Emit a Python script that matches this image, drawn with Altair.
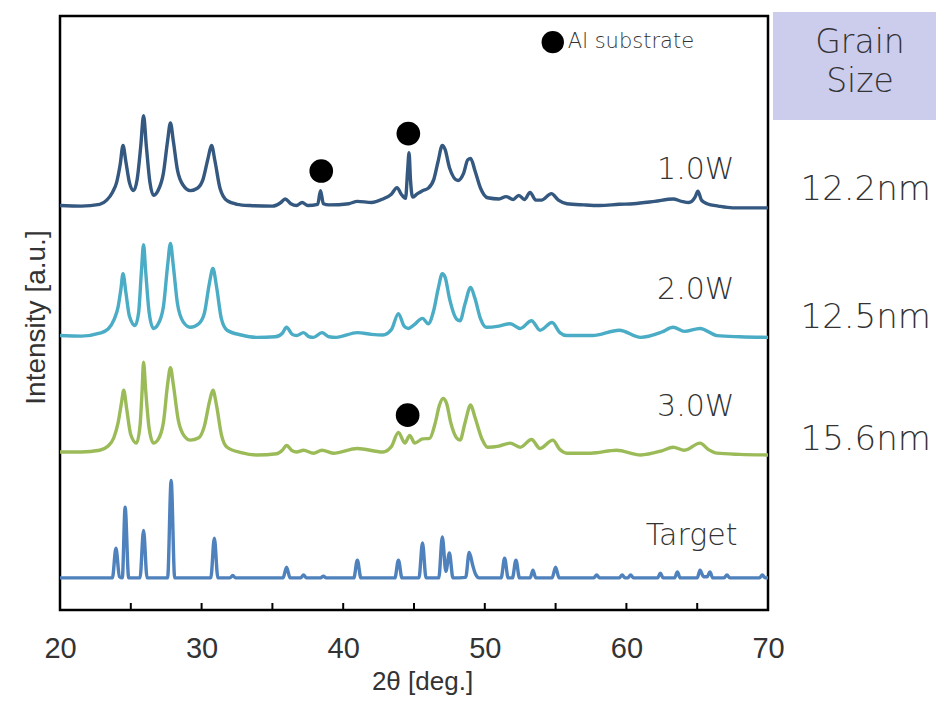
import altair as alt
import pandas as pd

# ---------------- data ----------------
series_names = ["1.0W", "2.0W", "3.0W", "Target"]
series_colors = ["#34587F", "#4BACC6", "#9BBB59", "#4F81BD"]

theta_10 = [20.0, 21.5, 22.8, 23.3, 23.7, 24.0, 24.25, 24.45, 24.65, 24.9, 25.2, 25.45,
            25.7, 25.9, 26.1, 26.35, 26.6, 26.9, 27.3, 27.6, 27.8, 28.0, 28.3, 28.7,
            29.2, 29.7, 30.1, 30.45, 30.7, 30.95, 31.3, 31.8, 32.5, 33.4, 35.0, 35.6,
            35.9, 36.3, 36.7, 37.1, 37.5, 38.2, 38.4, 38.6, 39.0, 40.4, 41.0, 42.0,
            42.8, 43.4, 43.8, 44.1, 44.4, 44.55, 44.65, 44.75, 44.9, 45.2, 45.6, 46.0,
            46.4, 46.7, 47.0, 47.2, 47.5, 48.1, 48.5, 48.8, 49.0, 49.3, 49.7, 50.2,
            51.0, 51.5, 52.0, 52.4, 52.8, 53.2, 53.6, 54.0, 54.7, 55.2, 55.8, 57.0,
            58.1, 59.5, 60.5, 62.0, 63.3, 63.9, 64.4, 64.85, 65.05, 65.3, 65.7, 66.5,
            67.5, 70.0]
int_10 = [68.1, 68.0, 68.3, 69.0, 70.3, 72.0, 75.0, 78.2, 75.5, 72.0, 70.6, 72.5,
          78.0, 83.2, 78.0, 72.0, 69.8, 70.5, 73.5, 79.0, 82.0, 79.0, 74.0, 71.5,
          70.6, 71.0, 72.5, 76.0, 78.2, 75.5, 71.0, 68.9, 68.3, 68.1, 68.0, 68.6,
          69.2, 68.4, 68.1, 68.6, 68.1, 68.3, 70.6, 68.4, 68.2, 68.4, 68.8, 68.6,
          69.2, 70.0, 71.1, 70.0, 69.3, 74.0, 77.0, 72.5, 69.5, 70.0, 70.6, 71.0,
          72.5, 75.5, 78.2, 77.5, 74.5, 72.3, 73.5, 75.8, 76.0, 74.0, 71.0, 69.4,
          69.2, 69.6, 69.1, 69.8, 69.1, 70.3, 69.0, 69.0, 70.1, 69.0, 68.4, 68.2,
          68.1, 68.3, 68.4, 68.8, 69.2, 68.8, 68.6, 69.5, 70.5, 69.0, 68.4, 68.0,
          67.7, 67.7]

theta_20 = [20.0, 21.5, 22.8, 23.4, 23.8, 24.1, 24.3, 24.45, 24.65, 24.9, 25.3, 25.55,
            25.75, 25.9, 26.05, 26.3, 26.6, 26.9, 27.3, 27.6, 27.8, 28.0, 28.3, 28.7,
            29.2, 29.8, 30.2, 30.55, 30.8, 31.05, 31.4, 31.8, 32.8, 33.9, 35.2, 35.7,
            36.0, 36.4, 36.7, 37.2, 37.6, 37.9, 38.5, 39.0, 39.5, 41.0, 42.0, 42.8,
            43.4, 43.9, 44.3, 44.6, 45.0, 45.6, 46.0, 46.4, 46.7, 47.0, 47.2, 47.5,
            48.0, 48.25, 48.6, 49.0, 49.3, 49.7, 50.1, 51.0, 51.8, 52.5, 53.3, 53.9,
            54.75, 55.3, 55.8, 57.6, 59.5, 61.0, 62.5, 63.3, 64.1, 65.2, 66.4, 68.0,
            70.0]
int_20 = [46.2, 46.1, 46.6, 47.3, 48.8, 51.0, 54.0, 56.6, 53.5, 49.5, 47.9, 50.0,
          57.0, 61.5, 57.0, 50.0, 47.4, 48.0, 51.0, 58.0, 61.7, 58.0, 51.5, 48.5,
          47.6, 48.2, 50.0, 55.0, 57.5, 54.5, 49.0, 47.1, 46.3, 45.9, 46.0, 46.6,
          47.6, 46.4, 46.2, 46.7, 46.0, 45.9, 46.7, 46.0, 45.9, 46.7, 46.4, 46.3,
          47.2, 49.9, 47.8, 47.4, 48.0, 49.1, 48.2, 50.5, 54.0, 56.6, 56.0, 52.5,
          49.0, 48.7, 51.5, 54.3, 52.5, 49.0, 47.6, 47.8, 48.2, 47.4, 48.7, 47.1,
          48.4, 46.7, 46.2, 46.2, 47.1, 45.9, 46.8, 47.6, 46.9, 47.4, 46.2, 46.0,
          45.9]

theta_30 = [20.0, 21.5, 22.8, 23.4, 23.8, 24.1, 24.35, 24.5, 24.7, 25.0, 25.4, 25.65,
            25.8, 25.9, 26.05, 26.3, 26.6, 26.9, 27.3, 27.6, 27.8, 28.0, 28.35, 28.8,
            29.2, 29.8, 30.2, 30.55, 30.8, 31.05, 31.4, 31.8, 32.8, 33.9, 35.3, 35.7,
            36.0, 36.4, 36.7, 37.2, 37.9, 38.5, 39.3, 41.0, 42.8, 43.4, 43.9, 44.35,
            44.7, 45.05, 45.6, 46.1, 46.5, 46.8, 47.05, 47.3, 47.6, 48.0, 48.25, 48.6,
            49.0, 49.3, 49.8, 50.2, 51.0, 51.8, 52.5, 53.3, 53.9, 54.8, 55.3, 55.8,
            57.5, 59.3, 61.0, 62.5, 63.3, 64.1, 65.2, 65.8, 66.4, 68.0, 70.0]
int_30 = [26.6, 26.6, 26.9, 27.6, 29.0, 31.5, 35.0, 37.0, 34.0, 29.5, 28.1, 31.0,
          37.0, 41.7, 37.0, 30.5, 28.1, 28.6, 31.5, 38.0, 40.8, 38.0, 32.0, 29.2,
          28.6, 29.0, 31.0, 35.0, 37.0, 34.5, 29.5, 27.4, 26.5, 26.1, 26.3, 26.9,
          27.7, 26.8, 26.6, 26.9, 26.4, 26.9, 26.4, 27.2, 26.6, 27.5, 29.9, 28.1,
          29.4, 28.1, 28.8, 28.9, 31.5, 34.5, 35.6, 34.8, 31.5, 29.0, 28.6, 31.5,
          34.5, 32.5, 28.8, 27.4, 27.6, 28.1, 27.4, 28.7, 27.2, 28.6, 27.0, 26.4,
          26.4, 26.9, 26.1, 26.8, 27.4, 26.9, 28.1, 27.0, 26.4, 26.2, 26.1]

theta_tg = [20.0, 23.7, 23.95, 24.2, 24.4, 24.6, 24.85, 25.65, 25.9, 26.15, 27.6, 27.85,
            28.1, 30.65, 30.9, 31.15, 32.0, 32.2, 32.4, 35.75, 36.0, 36.25, 37.0, 37.2,
            37.4, 38.4, 38.6, 38.8, 40.75, 41.0, 41.25, 43.65, 43.9, 44.15, 45.35, 45.6,
            45.85, 46.75, 47.0, 47.25, 47.5, 47.75, 48.65, 48.9, 49.15, 49.35, 49.6, 51.15,
            51.4, 51.65, 51.95, 52.2, 52.45, 53.2, 53.4, 53.6, 54.75, 55.0, 55.25, 57.7,
            57.9, 58.1, 59.5, 59.7, 59.9, 60.1, 60.3, 60.5, 62.2, 62.4, 62.6, 63.4,
            63.6, 63.8, 65.0, 65.2, 65.45, 65.7, 65.9, 66.1, 66.9, 67.1, 67.3, 69.4,
            69.6, 69.8, 70.0]
int_tg = [5.4, 5.4, 10.4, 5.6, 5.4, 17.3, 5.4, 5.4, 13.4, 5.4, 5.4, 21.8,
          5.4, 5.4, 12.1, 5.4, 5.4, 5.8, 5.4, 5.4, 7.2, 5.4, 5.4, 5.9,
          5.4, 5.4, 5.7, 5.4, 5.4, 8.4, 5.4, 5.4, 8.4, 5.4, 5.4, 11.3,
          5.4, 5.4, 12.3, 6.5, 9.6, 5.4, 5.5, 9.7, 7.5, 6.0, 5.4, 5.4,
          8.7, 5.4, 5.4, 8.4, 5.4, 5.4, 6.7, 5.4, 5.4, 7.2, 5.4, 5.4,
          5.9, 5.4, 5.4, 5.9, 5.4, 5.4, 5.9, 5.4, 5.4, 6.2, 5.4, 5.4,
          6.4, 5.4, 5.4, 6.7, 5.6, 5.6, 6.4, 5.4, 5.4, 5.9, 5.4, 5.4,
          5.9, 5.4, 5.4]

# Al substrate markers
dot_theta = [38.45, 44.6, 44.55]
dot_int = [73.9, 80.2, 32.8]

# curve labels
label_text = ["1.0W", "2.0W", "3.0W", "Target"]
label_theta = [64.9, 64.9, 64.9, 64.6]
label_int = [74.0, 53.9, 34.2, 12.5]

# grain sizes (right of the plot)
grain_text = ["12.2nm", "12.5nm", "15.6nm"]
grain_theta = [76.9, 76.9, 76.9]
grain_int = [70.7, 49.2, 28.6]

# legend
legend_theta = [54.8]
legend_int = [95.6]
legend_label = ["Al  substrate"]

x_labels = [20, 30, 40, 50, 60, 70]
x_ticks = [25, 30, 35, 40, 45, 50, 55, 60, 65]

# ---------------- build ----------------
rows = []
for name, th, it in [("1.0W", theta_10, int_10), ("2.0W", theta_20, int_20),
                     ("3.0W", theta_30, int_30), ("Target", theta_tg, int_tg)]:
    for a, b in zip(th, it):
        rows.append({"theta": a, "intensity": b, "series": name})
df = pd.DataFrame(rows)

xs = alt.Scale(domain=[20, 70], nice=False, zero=False)
ys = alt.Scale(domain=[0, 100], nice=False, zero=False)

TXT = "#333333"
xaxis = alt.Axis(values=x_labels, ticks=False, domain=False, grid=False,
                 labelFont="Liberation Sans", labelFontSize=29, labelColor=TXT,
                 labelPadding=24, labelFlush=False, labelOverlap=False,
                 title="2θ [deg.]", titleFont="Liberation Sans", titleFontSize=26,
                 titleFontWeight="normal", titleColor=TXT, titleX=362, titleY=71,
                 titleBaseline="middle", titleAlign="center")
yaxis = alt.Axis(labels=False, ticks=False, domain=False, grid=False,
                 title="Intensity [a.u.]", titleFont="Liberation Sans", titleFontSize=28,
                 titleFontWeight="normal", titleColor=TXT, titleX=-24, titleY=301,
                 titleBaseline="middle", titleAlign="center", titleAngle=270)


def X(field):
    return alt.X(field, type="quantitative", scale=xs, axis=xaxis)


def Y(field):
    return alt.Y(field, type="quantitative", scale=ys, axis=yaxis)


lines = alt.Chart(df).mark_line(clip=True, strokeJoin="round", strokeCap="round",
                                interpolate="monotone").encode(
    x=X("theta"), y=Y("intensity"),
    color=alt.Color("series:N", scale=alt.Scale(domain=series_names, range=series_colors), legend=None),
    strokeWidth=alt.StrokeWidth("series:N", scale=alt.Scale(domain=series_names, range=[3.4, 3.4, 3.4, 2.7]), legend=None),
    detail="series:N",
)

dots = alt.Chart(pd.DataFrame({"theta": dot_theta, "intensity": dot_int})).mark_point(
    filled=True, size=560, color="black", opacity=1
).encode(x=X("theta"), y=Y("intensity"))

legend_dot = alt.Chart(pd.DataFrame({"theta": legend_theta, "intensity": legend_int})).mark_point(
    filled=True, size=500, color="black", opacity=1
).encode(x=X("theta"), y=Y("intensity"))

legend_txt = alt.Chart(pd.DataFrame({"theta": legend_theta, "intensity": legend_int, "t": legend_label})).mark_text(
    align="left", baseline="middle", dx=15, font="DejaVu Sans", fontSize=21, fontWeight=300, color=TXT
).encode(x=X("theta"), y=Y("intensity"), text="t:N")

labels = alt.Chart(pd.DataFrame({"theta": label_theta, "intensity": label_int, "t": label_text})).mark_text(
    align="center", baseline="middle", font="DejaVu Sans", fontSize=30, fontWeight=300, color=TXT
).encode(x=X("theta"), y=Y("intensity"), text="t:N")

grain = alt.Chart(pd.DataFrame({"theta": grain_theta, "intensity": grain_int, "t": grain_text})).mark_text(
    align="center", baseline="middle", font="DejaVu Sans", fontSize=34, fontWeight=300, color=TXT
).encode(x=X("theta"), y=Y("intensity"), text="t:N")

ticks = alt.Chart(pd.DataFrame({"theta": x_ticks})).mark_rule(color="black", strokeWidth=2).encode(
    x=X("theta"), y=alt.value(594), y2=alt.value(587)
)

one = pd.DataFrame({"k": [0]})
box = alt.Chart(one).mark_rect(color="#CCCCEC").encode(
    x=alt.value(713), x2=alt.value(900), y=alt.value(-4), y2=alt.value(104)
)
head1 = alt.Chart(one).mark_text(
    align="center", baseline="middle", font="DejaVu Sans", fontSize=33, fontWeight=300, color=TXT, text="Grain"
).encode(x=alt.value(800), y=alt.value(27))
head2 = alt.Chart(one).mark_text(
    align="center", baseline="middle", font="DejaVu Sans", fontSize=33, fontWeight=300, color=TXT, text="Size"
).encode(x=alt.value(800), y=alt.value(66))

chart = alt.layer(box, head1, head2, lines, ticks, dots, legend_dot, legend_txt, labels, grain).properties(
    width=708, height=594,
    autosize=alt.AutoSizeParams(type="none"),
    padding={"left": 52, "top": 8, "right": 168, "bottom": 88},
    background="white",
).configure_view(stroke="black", strokeWidth=2.5)

chart.save("out.html", embed_options={"renderer": "svg", "actions": False})
